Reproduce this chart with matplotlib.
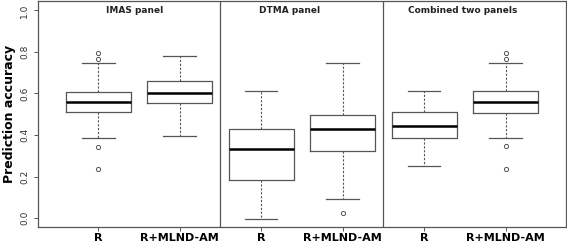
import matplotlib
matplotlib.use("Agg")
import matplotlib.pyplot as plt

# box statistics (R, R+MLND-AM for each panel)
labels = ["R", "R+MLND-AM", "R", "R+MLND-AM", "R", "R+MLND-AM"]
whis_lo = [0.385, 0.394, -0.005, 0.094, 0.253, 0.387]
q1 = [0.509, 0.554, 0.181, 0.325, 0.387, 0.508]
med = [0.559, 0.602, 0.332, 0.430, 0.441, 0.560]
q3 = [0.609, 0.659, 0.430, 0.497, 0.511, 0.611]
whis_hi = [0.748, 0.778, 0.611, 0.745, 0.614, 0.746]
outliers = [[0.795, 0.768, 0.344, 0.236], [], [], [0.024], [],
            [0.794, 0.767, 0.345, 0.237]]
panel_titles = ["IMAS panel", "DTMA panel", "Combined two panels"]
title_x = [1.45, 3.35, 5.47]

stats = []
for i in range(len(labels)):
    stats.append(dict(whislo=whis_lo[i], q1=q1[i], med=med[i], q3=q3[i],
                      whishi=whis_hi[i], fliers=outliers[i]))

fig = plt.figure(figsize=(5.67, 2.47), dpi=100)
ax = fig.add_axes([0.067, 0.081, 0.931, 0.915])

grey = "#555555"
ax.bxp(stats, positions=range(1, 7), widths=0.8, capwidths=0.4,
       showfliers=True,
       boxprops=dict(color=grey, linewidth=0.9),
       medianprops=dict(color="black", linewidth=1.8),
       whiskerprops=dict(color=grey, linewidth=0.8, linestyle=(0, (2, 1.5))),
       capprops=dict(color=grey, linewidth=0.9),
       flierprops=dict(marker="o", markersize=3, markerfacecolor="none",
                       markeredgecolor=grey, markeredgewidth=0.7))

for xd in [2.5, 4.5]:
    ax.axvline(xd, color=grey, linewidth=0.9)

for t, x in zip(panel_titles, title_x):
    ax.text(x, 1.0, t, ha="center", va="center", fontsize=6.5,
            fontweight="bold", color="#222222")

ax.set_xlim(0.26, 6.74)
ax.set_ylim(-0.043, 1.045)
ax.set_xticks(range(1, 7))
ax.set_xticklabels(labels, fontsize=8, fontweight="bold")
ax.set_yticks([0.0, 0.2, 0.4, 0.6, 0.8, 1.0])
ax.set_yticklabels(["0.0", "0.2", "0.4", "0.6", "0.8", "1.0"],
                   fontsize=6.5, rotation=90, va="center", color="#333333")
ax.tick_params(axis="both", length=3, width=0.7, color=grey)
ax.tick_params(axis="x", pad=1.5)
ax.set_ylabel("Prediction accuracy", fontsize=9, fontweight="bold",
              labelpad=3)
for s in ax.spines.values():
    s.set_color(grey)
    s.set_linewidth(0.9)

fig.savefig("out.png", dpi=100)
